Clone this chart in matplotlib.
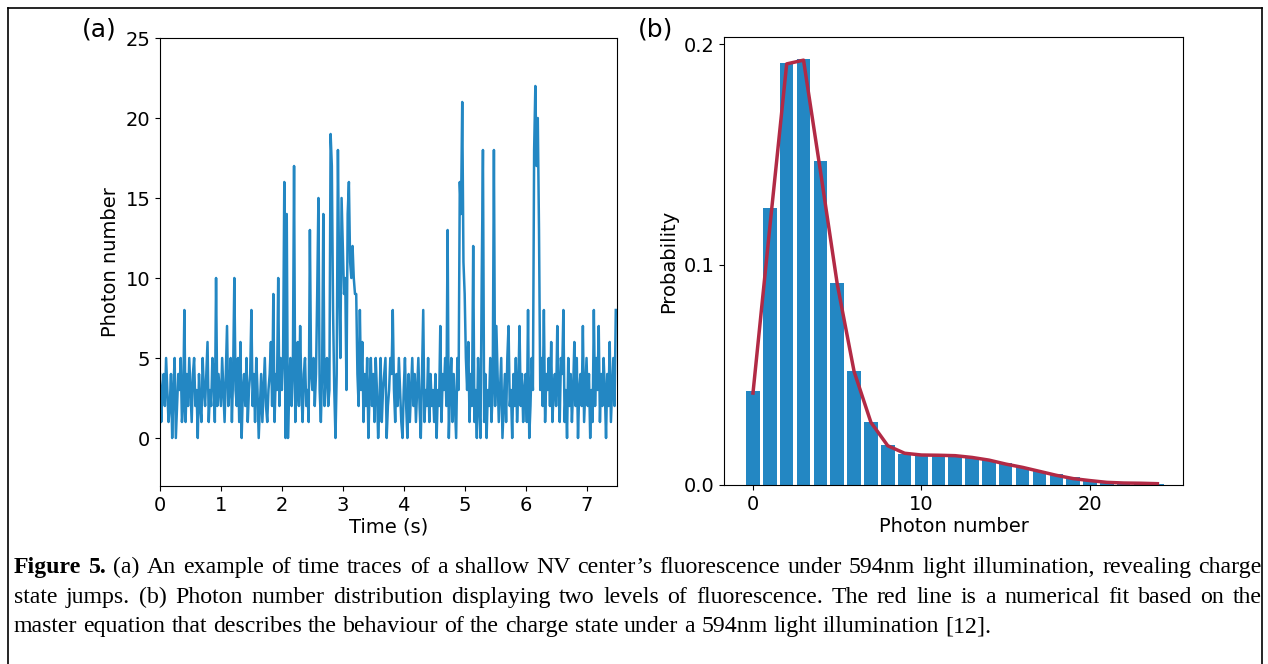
import numpy as np
import matplotlib.pyplot as plt
from matplotlib.lines import Line2D

# ----- data -----
dt = 0.02  # s per bin
counts = [
    4, 1, 3, 4, 2, 5, 3, 1, 2, 4, 0, 3, 5, 0, 2, 4, 3, 5, 1, 2, 8, 1, 4, 2, 5,
    3, 1, 4, 5, 2, 3, 0, 4, 2, 1, 5, 3, 2, 4, 6, 1, 3, 2, 5, 4, 1, 10, 2, 4, 3,
    2, 5, 3, 1, 4, 7, 2, 3, 5, 1, 4, 10, 3, 2, 5, 1, 6, 0, 3, 4, 2, 5, 1, 3, 4,
    8, 2, 4, 1, 5, 3, 0, 2, 4, 1, 3, 5, 2, 1, 3, 4, 6, 2, 9, 1, 4, 3, 10, 2, 5,
    3, 5, 16, 0, 14, 0, 3, 5, 2, 4, 17, 1, 3, 6, 2, 7, 3, 1, 4, 5, 2, 3, 1, 13, 4,
    3, 5, 2, 4, 9, 15, 3, 1, 4, 14, 2, 4, 5, 2, 3, 19, 17, 8, 3, 0, 4, 18, 10, 5, 15,
    12, 9, 10, 3, 14, 16, 11, 10, 12, 10, 9, 9, 4, 2, 8, 3, 6, 1, 4, 2, 5, 0, 3, 5, 2,
    4, 1, 5, 3, 0, 2, 5, 1, 3, 4, 5, 0, 2, 3, 5, 4, 8, 3, 1, 4, 2, 5, 3, 1, 0,
    3, 5, 2, 0, 4, 1, 3, 5, 2, 4, 1, 3, 5, 2, 0, 4, 8, 1, 3, 2, 5, 1, 4, 2, 3,
    1, 4, 0, 3, 2, 7, 1, 4, 3, 5, 2, 13, 0, 3, 5, 1, 4, 2, 0, 5, 3, 16, 14, 21, 11,
    9, 5, 3, 6, 1, 4, 2, 12, 1, 3, 0, 5, 2, 0, 10, 18, 1, 4, 0, 3, 2, 5, 1, 3, 18,
    2, 7, 4, 1, 3, 5, 0, 2, 4, 1, 5, 7, 2, 3, 0, 4, 2, 5, 1, 3, 7, 2, 4, 1, 3,
    4, 1, 8, 0, 2, 5, 3, 18, 22, 17, 20, 13, 3, 5, 2, 8, 1, 4, 3, 5, 2, 6, 1, 3, 4,
    2, 7, 3, 1, 5, 4, 8, 1, 3, 0, 5, 2, 4, 1, 3, 6, 2, 5, 0, 3, 4, 2, 7, 1, 3,
    5, 2, 4, 0, 3, 1, 8, 2, 5, 3, 7, 1, 4, 2, 5, 3, 0, 4, 2, 6, 1, 3, 5, 2, 8,
]
time = np.arange(len(counts)) * dt

photon_n = list(range(25))
prob = [0.0428, 0.1256, 0.1912, 0.1934, 0.1471, 0.0916, 0.0515, 0.0287, 0.0183,
        0.0141, 0.0136, 0.0133, 0.0130, 0.0125, 0.0113, 0.0098, 0.0083, 0.0065,
        0.0050, 0.0035, 0.0023, 0.0015, 0.0010, 0.0007, 0.0006]
fit = [0.0417, 0.117, 0.191, 0.1927, 0.1425, 0.0912, 0.0515, 0.0284, 0.0178,
       0.0144, 0.0136, 0.0135, 0.0133, 0.0125, 0.0113, 0.0095, 0.0080, 0.0062,
       0.0044, 0.0029, 0.0020, 0.0012, 0.0009, 0.0008, 0.0006]

caption_lines = [
    [("Figure 5.", True), ("(a) An example of time traces of a shallow NV center\u2019s fluorescence under 594nm light illumination, revealing charge", False)],
    [("state jumps. (b) Photon number distribution displaying two levels of fluorescence. The red line is a numerical fit based on the", False)],
    [("master equation that describes the behaviour of the charge state under a 594nm light illumination [12].", False)],
]

blue = '#2387c3'
red = '#b22a45'

W, H = 1268, 664
fig = plt.figure(figsize=(W / 100, H / 100), dpi=100)
plt.rcParams['font.size'] = 14

# (a) time trace
ax1 = fig.add_axes([160 / W, 1 - 486 / H, 457 / W, 448 / H])
ax1.plot(time, counts, color=blue, lw=1.8)
ax1.set_xlim(0, 7.5)
ax1.set_ylim(-3, 25)
ax1.set_xticks(range(8))
ax1.set_yticks([0, 5, 10, 15, 20, 25])
ax1.set_xlabel('Time (s)', fontsize=14, labelpad=2)
ax1.set_ylabel('Photon number', fontsize=14)
ax1.tick_params(labelsize=14)

# (b) histogram + fit
ax2 = fig.add_axes([724 / W, 1 - 485 / H, 459 / W, 448 / H])
ax2.bar(photon_n, prob, width=0.8, color=blue)
ax2.plot(photon_n, fit, color=red, lw=2.5)
ax2.set_xlim(-1.72, 25.52)
ax2.set_ylim(0, 0.2032)
ax2.set_xticks([0, 10, 20])
ax2.set_yticks([0.0, 0.1, 0.2])
ax2.set_yticklabels(['0.0', '0.1', '0.2'])
ax2.set_xlabel('Photon number', fontsize=14, labelpad=2)
ax2.set_ylabel('Probability', fontsize=14)
ax2.tick_params(labelsize=14)

fig.text(82 / W, 1 - 30 / H, '(a)', fontsize=18, va='center', ha='left')
fig.text(638 / W, 1 - 30 / H, '(b)', fontsize=18, va='center', ha='left')

# outer frame (top, left, right; bottom runs off the page)
for xs, ys_ in [([8, 1262], [8, 8]), ([8, 8], [8, 664]), ([1262, 1262], [8, 664])]:
    fig.add_artist(Line2D([x / W for x in xs], [1 - y / H for y in ys_],
                          transform=fig.transFigure, color='black', lw=1.2))

# caption, justified word by word
fig.canvas.draw()
renderer = fig.canvas.get_renderer()
x0, x1 = 14, 1262
cap_font = dict(family='Liberation Serif', fontsize=17.2)
ys = [573, 603, 632]
for k, parts in enumerate(caption_lines):
    words = []
    for txt, bold in parts:
        for w in txt.split(' '):
            words.append((w, bold))
    arts = []
    total = 0
    for w, bold in words:
        t = fig.text(0, 1 - ys[k] / H, w, va='baseline', ha='left',
                     fontweight='bold' if bold else 'normal', **cap_font)
        bb = t.get_window_extent(renderer)
        arts.append((t, bb.width))
        total += bb.width
    t_ab = fig.text(0, 0, 'a b', **cap_font)
    t_a = fig.text(0, 0, 'ab', **cap_font)
    space = t_ab.get_window_extent(renderer).width - t_a.get_window_extent(renderer).width
    t_ab.remove()
    t_a.remove()
    if k < len(caption_lines) - 1:
        gap = (x1 - x0 - total) / (len(words) - 1)
    else:
        gap = space
    x = x0
    for t, w in arts:
        t.set_x(x / W)
        x += w + gap

fig.savefig('out.png', dpi=100)
